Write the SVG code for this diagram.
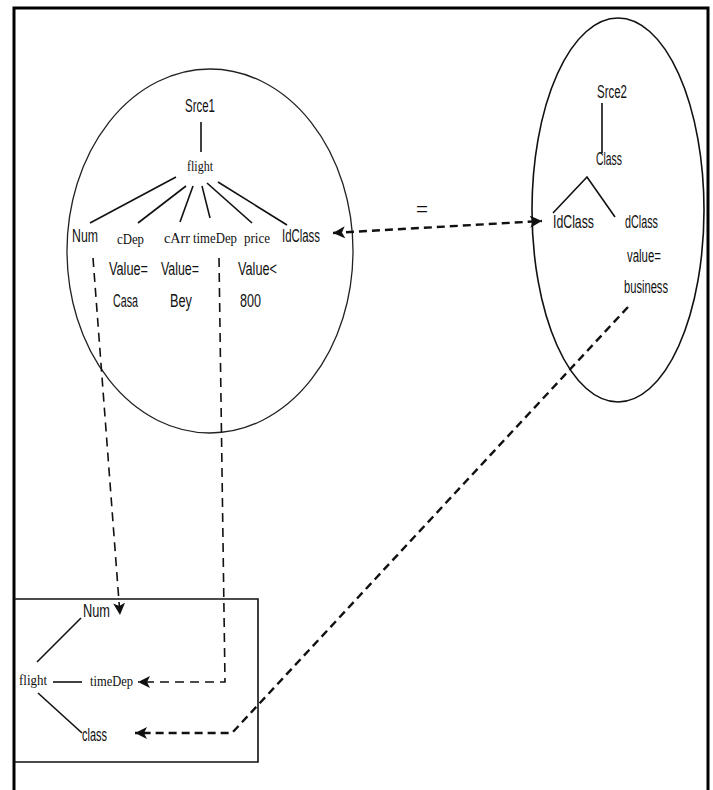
<svg xmlns="http://www.w3.org/2000/svg" width="713" height="790" viewBox="0 0 713 790">
<style>
.s{font-family:"Liberation Sans",Arial,sans-serif;font-size:17.5px;fill:#111}
.r{font-family:"Liberation Serif","Times New Roman",serif;font-size:15px;fill:#111}
.ln{stroke:#111;stroke-width:1.6;fill:none}
.sh{stroke:#222;stroke-width:1.3;fill:none}
.dv{stroke:#111;stroke-width:1.6;fill:none;stroke-dasharray:9 6}
.dt{stroke:#111;stroke-width:2.4;fill:none;stroke-dasharray:8 5}
</style>
<defs>
<marker id="ah" markerUnits="userSpaceOnUse" markerWidth="14" markerHeight="12" refX="12" refY="6" orient="auto">
<path d="M0,0 L12,6 L0,12 L3,6 Z" fill="#111"/>
</marker>
<marker id="as" markerUnits="userSpaceOnUse" markerWidth="14" markerHeight="12" refX="12" refY="6" orient="auto-start-reverse">
<path d="M0,0 L12,6 L0,12 L3,6 Z" fill="#111"/>
</marker>
</defs>
<rect width="713" height="790" fill="#fff"/>
<path d="M14,792 L14,8 L708,8 L708,792" stroke="#000" stroke-width="3" fill="none"/>

<g id="source1">
<ellipse cx="210" cy="251" rx="143" ry="182" class="sh"/>
<text class="s" x="185" y="112" textLength="30" lengthAdjust="spacingAndGlyphs">Srce1</text>
<line x1="201" y1="122" x2="201" y2="152" class="ln" stroke-width="1.2"/>
<text class="r" x="187" y="171" textLength="26" lengthAdjust="spacingAndGlyphs">flight</text>
<line x1="176" y1="177" x2="90" y2="223" class="ln" stroke-width="2"/>
<line x1="186" y1="186" x2="138" y2="223" class="ln" stroke-width="2"/>
<line x1="193" y1="186" x2="180" y2="222" class="ln" stroke-width="2"/>
<line x1="202" y1="186" x2="210" y2="218" class="ln" stroke-width="2"/>
<line x1="207" y1="183" x2="252" y2="223" class="ln" stroke-width="2"/>
<line x1="218" y1="182" x2="287" y2="225" class="ln" stroke-width="2"/>
<text class="s" x="72" y="242" textLength="26" lengthAdjust="spacingAndGlyphs">Num</text>
<text class="r" x="117" y="244" textLength="27" lengthAdjust="spacingAndGlyphs">cDep</text>
<text class="r" x="164" y="243" textLength="26" lengthAdjust="spacingAndGlyphs">cArr</text>
<text class="r" x="193" y="243" textLength="44" lengthAdjust="spacingAndGlyphs">timeDep</text>
<text class="r" x="244" y="243" textLength="26" lengthAdjust="spacingAndGlyphs">price</text>
<text class="s" x="282" y="242" textLength="38" lengthAdjust="spacingAndGlyphs">IdClass</text>
<text class="s" x="109" y="275" textLength="39" lengthAdjust="spacingAndGlyphs">Value=</text>
<text class="s" x="161" y="275" textLength="38" lengthAdjust="spacingAndGlyphs">Value=</text>
<text class="s" x="238" y="275" textLength="39" lengthAdjust="spacingAndGlyphs">Value&lt;</text>
<text class="s" x="113" y="307" textLength="25" lengthAdjust="spacingAndGlyphs">Casa</text>
<text class="s" x="170" y="307" textLength="22" lengthAdjust="spacingAndGlyphs">Bey</text>
<text class="s" x="240" y="307" textLength="21" lengthAdjust="spacingAndGlyphs">800</text>
</g>

<g id="source2">
<ellipse cx="618" cy="210" rx="86" ry="192" class="ln"/>
<text class="s" x="597" y="98" textLength="30" lengthAdjust="spacingAndGlyphs">Srce2</text>
<line x1="602" y1="103" x2="602" y2="153" class="ln" stroke-width="1.2"/>
<text class="s" x="596" y="165" textLength="26" lengthAdjust="spacingAndGlyphs">Class</text>
<polyline points="553,213 587,177 615,217" class="ln"/>
<text class="s" x="553" y="228" textLength="41" lengthAdjust="spacingAndGlyphs">IdClass</text>
<text class="s" x="625" y="228" textLength="33" lengthAdjust="spacingAndGlyphs">dClass</text>
<text class="s" x="627" y="262" textLength="34" lengthAdjust="spacingAndGlyphs">value=</text>
<text class="s" x="624" y="293" textLength="44" lengthAdjust="spacingAndGlyphs">business</text>
</g>

<g id="result">
<path d="M14,599 L258,599 L258,762 L14,762" class="ln"/>
<text class="s" x="83" y="617" textLength="27" lengthAdjust="spacingAndGlyphs">Num</text>
<line x1="81" y1="618" x2="37" y2="662" class="ln"/>
<text class="r" x="19" y="685" textLength="28" lengthAdjust="spacingAndGlyphs">flight</text>
<line x1="53" y1="682" x2="82" y2="682" class="ln"/>
<text class="r" x="90" y="686" textLength="43" lengthAdjust="spacingAndGlyphs">timeDep</text>
<line x1="38" y1="693" x2="82" y2="733" class="ln"/>
<text class="s" x="82" y="741" textLength="25" lengthAdjust="spacingAndGlyphs">class</text>
</g>

<g id="connectors">
<text class="s" x="416" y="215" textLength="12" lengthAdjust="spacingAndGlyphs">=</text>
<line x1="333" y1="233" x2="542" y2="221" class="dt" marker-start="url(#as)" marker-end="url(#ah)"/>
<line x1="93" y1="258" x2="120" y2="615" class="dv" marker-end="url(#ah)"/>
<path d="M219,258 L225,682 L138,682" class="dv" marker-end="url(#ah)"/>
<path d="M628,307 L232,733 L135,733" class="dt" marker-end="url(#ah)"/>
</g>
</svg>
